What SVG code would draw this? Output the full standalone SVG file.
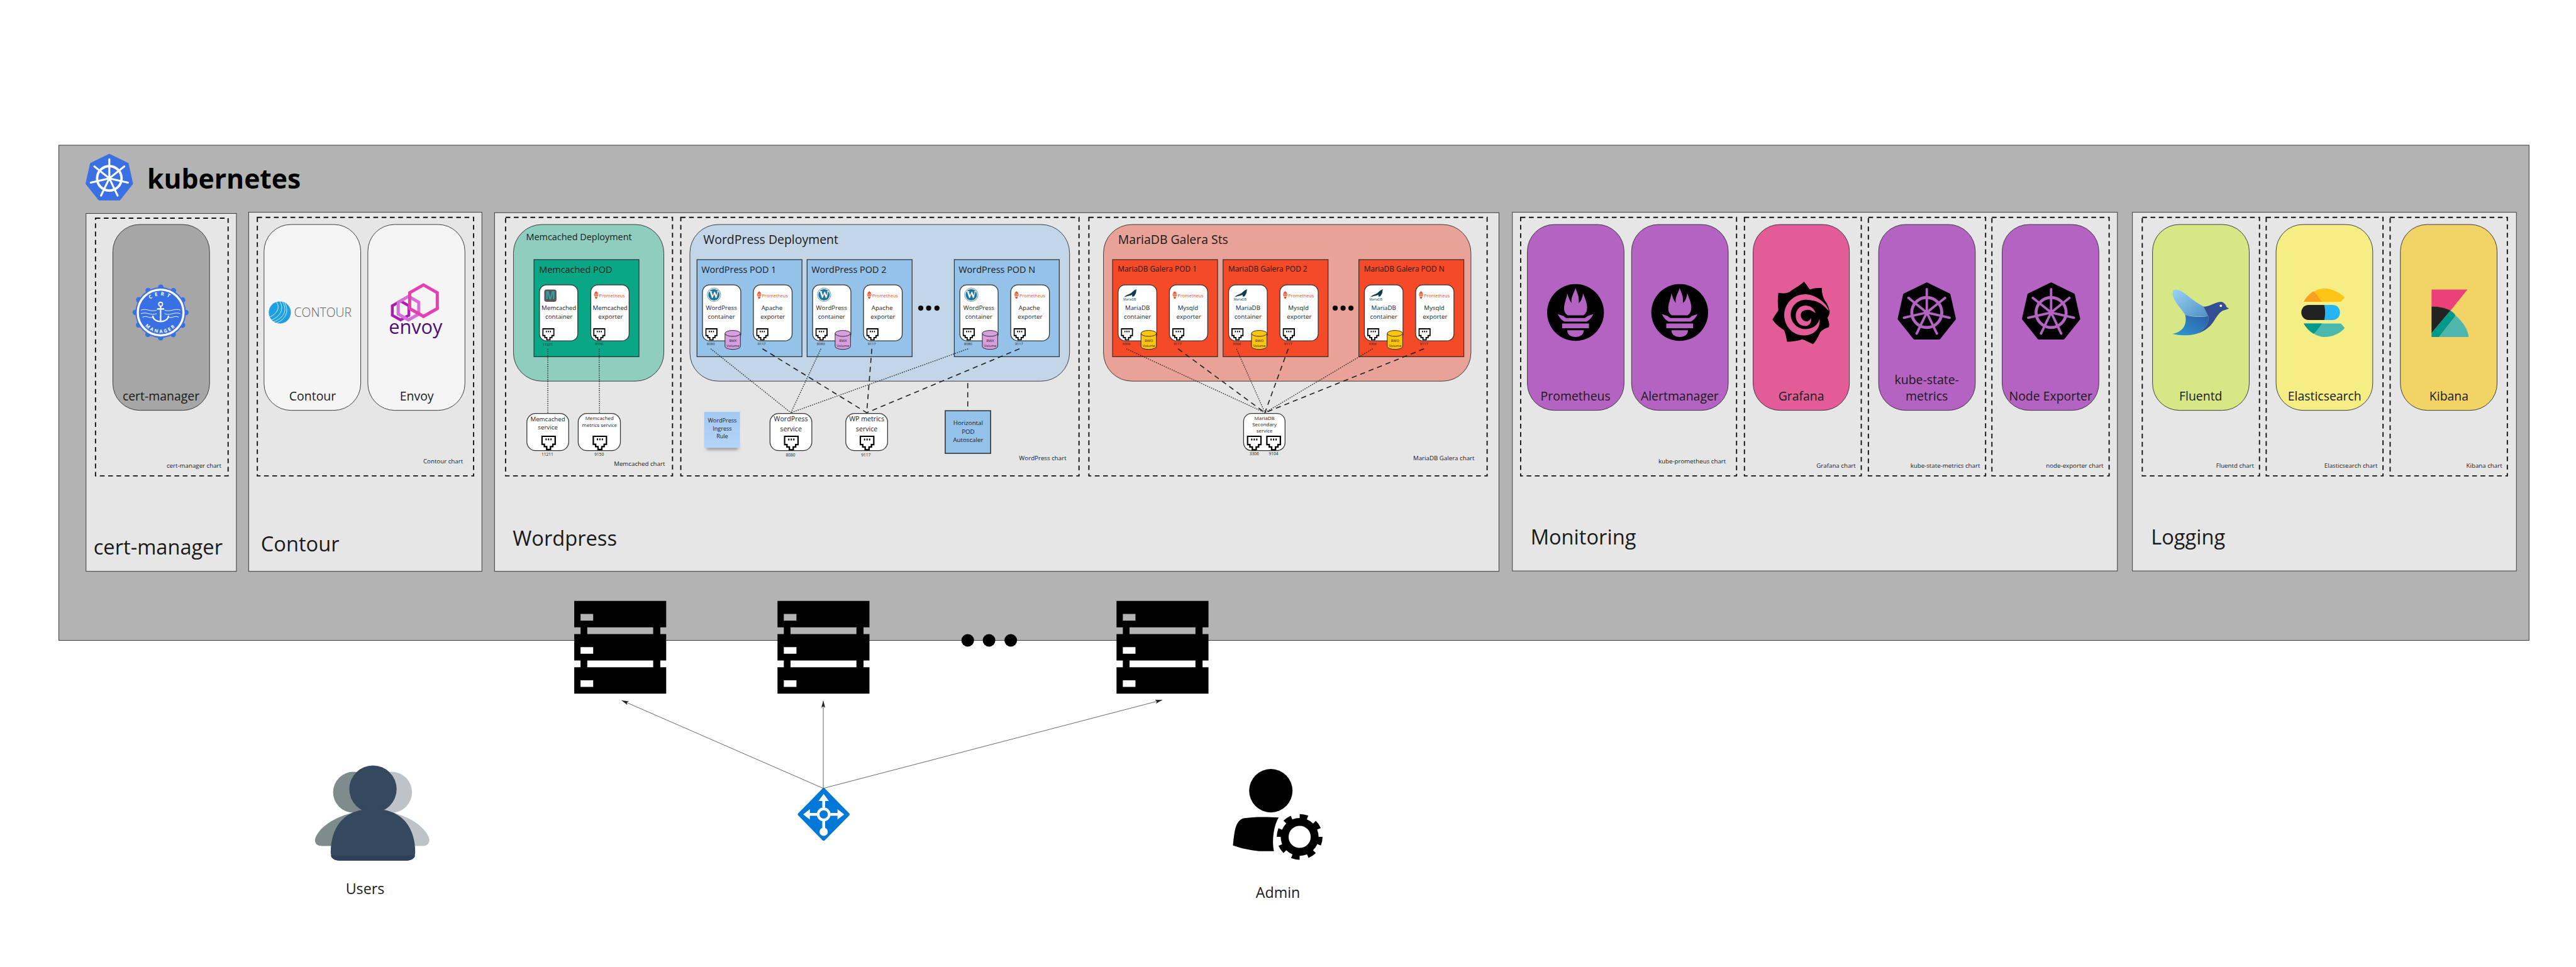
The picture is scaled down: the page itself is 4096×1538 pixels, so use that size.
<svg xmlns="http://www.w3.org/2000/svg" width="4096" height="1538" viewBox="0 0 4096 1538">
<style>
text{font-family:"Open Sans","Noto Sans","DejaVu Sans",sans-serif;fill:#1a1a1a}
.m{text-anchor:middle}.e{text-anchor:end}
.panel{fill:#e6e6e6;stroke:#333;stroke-width:1.5}
.chart{fill:none;stroke:#111;stroke-width:3;stroke-dasharray:12 9}
.card{stroke:#333;stroke-width:1.5}
.box{fill:#fff;stroke:#333;stroke-width:2}
.pod{stroke:#333;stroke-width:2}
.dot{fill:none;stroke:#222;stroke-width:2.2;stroke-dasharray:2.5 3}
.dash{fill:none;stroke:#222;stroke-width:2.6;stroke-dasharray:13 10}
.arrow{fill:none;stroke:#444;stroke-width:1.3}
.f9{font-size:9px}.f11{font-size:10.5px}.p{font-size:11.4px;fill:#e6522c}
.f15{font-size:15.5px}.f31{font-size:31px}.f52{font-size:52px}
.f23{font-size:23px}.f19{font-size:19px}.f17{font-size:17px}.f13{font-size:12.7px}.f145{font-size:14.5px}
.tit{font-size:31px}.wheel{fill:none;stroke:currentColor}
</style>
<defs>
<symbol id="port" viewBox="0 0 31 31"><path fill="#000" d="M0 0H31V20H26V25H21V31H10V25H5V20H0Z"/><path fill="#fff" d="M3 3H28V17H23V22H18V28H13V22H8V17H3Z"/><path fill="#000" d="M9 6h2.6v4H9zM14.2 6h2.6v4h-2.6zM19.4 6h2.6v4h-2.6z"/></symbol>
<g id="cyl" stroke="#222" stroke-width="1.5"><path d="M1 8V41A19.5 7.5 0 0 0 40 41V8"/><ellipse cx="20.5" cy="8" rx="19.5" ry="7.5"/></g>
<g id="flame" fill="#e6522c"><path d="M6.5 0C7 2 8 2 9 4C10 3 11 5 11 7L13 8H0L2 7C2 5 3 5 4 3C5 3.500 6 2 6.500 0Z"/><path d="M1 9H12V11.500H1ZM2 12.500H11V14H2ZM3 15H10L8 20H5Z"/></g>
<path id="seal" fill="#0f3d4c" d="M0 20C8 12 14 14 20 8C24 4 28 1 32 0C30 5 32 8 28 14C26 18 24 20 20 18L21 14C14 17 6 18 0 20Z"/>
<g id="wp"><circle r="17" fill="#fff" stroke="#21759b" stroke-width="1.2"/><circle r="14.500" fill="#21759b"/></g>
<g id="wheel" class="wheel"><circle r="50" stroke-width="10"/><circle r="9" fill="currentColor" stroke="none"/><path stroke-width="8" stroke-linecap="round" d="M0 0L0 -78M0 0L61 -48.600M0 0L76 17.400M0 0L33.800 70.300M0 0L-33.800 70.300M0 0L-76 17.400M0 0L-61 -48.600"/></g>
<polygon id="hepta" stroke-width="10" stroke-linejoin="round" points="0,-95 74,-59 92,21 41,85 -41,85 -92,21 -74,-59"/>
<g id="torch"><circle r="72" fill="#000"/><g fill="#b463c2"><path d="M0 -62C4 -48 10 -42 8 -24C14 -28 18 -38 19 -49C24 -35 31 -22 29 -8C28 0 24 5 20 7H-20C-25 4 -29 -2 -29 -10C-29 -24 -22 -36 -21 -49C-18 -38 -15 -30 -10 -24C-12 -40 -4 -48 0 -62Z"/><path d="M-45 4L-30 9C-28 12 -24 14 -20 14H20C24 14 28 12 30 9L45 4C42 12 35 20 28 23H-28C-35 20 -42 12 -45 4Z"/><path d="M-34 28H34V40H-34ZM-21 45H21C21 56 12 62 0 62C-12 62 -21 56 -21 45Z"/></g></g>
<g id="srv"><path fill="#000" d="M0 0H233V67H0ZM0 84H233V151H0ZM0 168H233V235H0ZM16 67H33V84H16ZM200 67H218V84H200ZM16 151H33V168H16ZM200 151H218V168H200Z"/><path fill="#b3b3b3" d="M16 33H48V50H16Z"/><path fill="#fff" d="M16 117H48V134H16ZM16 201H48V218H16Z"/></g>
<marker id="arr" markerUnits="userSpaceOnUse" markerWidth="20" markerHeight="12" refX="18" refY="6" orient="auto"><path d="M0 1L18 6L0 11L4 6Z" fill="#222"/></marker>
<linearGradient id="wing" x1="0" y1="0" x2="1" y2="1"><stop offset="0" stop-color="#9ad4f3"/><stop offset="1" stop-color="#4f8fc6"/></linearGradient>
<linearGradient id="bod" x1="1" y1="0" x2="0" y2="1"><stop offset="0" stop-color="#2d5ea6"/><stop offset="1" stop-color="#2f9ad3"/></linearGradient>
<linearGradient id="note" x1="0" y1="0" x2="0" y2="1"><stop offset="0" stop-color="#a3c9f1"/><stop offset="1" stop-color="#b3d5fa"/></linearGradient>
<filter id="blur" x="-20%" y="-100%" width="140%" height="300%"><feGaussianBlur stdDeviation="4"/></filter>
</defs>
<rect width="4096" height="1538" fill="#fff"/>
<g transform="scale(0.62755)">

<g id="kubernetes"><rect x="149" y="368" width="6259" height="1255" fill="#b3b3b3" stroke="#333" stroke-width="1.5"/>
<g transform="translate(277 452) scale(.62)" color="#fff"><use href="#hepta" fill="#3970e4" stroke="#3970e4"/><use href="#wheel"/></g>
<text x="373" y="478" font-size="68" font-weight="700" style="fill:#000">kubernetes</text></g>

<g id="cert-manager-panel"><rect class="panel" x="218" y="541" width="381" height="907"/><rect class="chart" x="242" y="553" width="336" height="653"/>
<text class="e f15" x="561" y="1185">cert-manager chart</text><text class="f52" x="237" y="1406">cert-manager</text></g>
<g id="cert-manager"><rect class="card" x="286" y="569" width="245" height="471" rx="68" fill="#a6a6a6"/>
<g transform="translate(407 792)"><circle r="64" fill="#3970e4"/><circle r="64" fill="none" stroke="#3970e4" stroke-width="14" stroke-linecap="round" stroke-dasharray="0 33.500"/><circle r="58" fill="none" stroke="#fff" stroke-width="5.500"/>
<path id="arcT" fill="none" d="M-43 0A43 43 0 0 1 43 0"/><path id="arcB" fill="none" d="M-52 0A52 52 0 0 0 52 0"/>
<text font-size="12.500" font-weight="700" letter-spacing="7" style="fill:#fff"><textPath href="#arcT" startOffset="50%" text-anchor="middle">CERT</textPath></text>
<text font-size="12" font-weight="700" letter-spacing="4" style="fill:#fff"><textPath href="#arcB" startOffset="50%" text-anchor="middle">MANAGER</textPath></text>
<g fill="none" stroke="#fff"><path stroke-width="1.500" d="M-50 -6C-35 -12 -25 0 -10 -6M10 -6C25 0 35 -12 50 -6M-50 3C-35 -3 -25 9 -10 3M10 3C25 9 35 -3 50 3M-46 12C-35 6 -30 16 -20 12M20 12C30 16 35 6 46 12"/><circle cy="-21" r="5" stroke-width="3"/><path stroke-width="3.500" d="M0 -16V23M-9 -9H9M-20 8C-18 28 18 28 20 8"/></g></g>
<text class="m f31" x="408" y="1015">cert-manager</text></g>

<g id="contour-panel"><rect class="panel" x="630" y="538" width="591" height="910"/><rect class="chart" x="652" y="551" width="548" height="655"/>
<text class="e f15" x="1173" y="1174">Contour chart</text><text class="f52" x="661" y="1397">Contour</text></g>
<g id="contour"><rect class="card" x="669" y="569" width="245" height="471" rx="68" fill="#f5f5f5"/>
<circle cx="709" cy="792" r="28" fill="#1e9fe0"/><path fill="none" stroke="#fff" stroke-width="1.300" d="M716 765C728 785 722 805 692 816M722 768C732 788 726 808 700 819M709 764C720 782 712 802 686 812M700 765C710 778 704 795 682 804"/>
<text x="745" y="803" font-size="31" font-weight="300" style="fill:#666">CONTOUR</text><text class="m f31" x="792" y="1015">Contour</text></g>
<g id="envoy"><rect class="card" x="932" y="569" width="246" height="471" rx="68" fill="#f5f5f5"/>
<polygon fill="none" stroke="#a81fae" stroke-width="7" points="1015,763 1036,775 1036,799 1015,811 994,799 994,775"/><polygon fill="none" stroke="#d86fd9" stroke-width="8" points="1035,751 1061,766 1061,796 1035,811 1009,796 1009,766"/><polygon fill="none" stroke="#e53fb0" stroke-width="8" points="1073,722 1108,742 1108,782 1073,802 1038,782 1038,742"/>
<text x="1053" y="846" class="m" font-size="49" font-weight="500" style="fill:#4d0f75">envoy</text><text class="m f31" x="1056" y="1015">Envoy</text></g>

<g id="wordpress-panel"><rect class="panel" x="1253" y="539" width="2545" height="909"/>
<rect class="chart" x="1281" y="551" width="423" height="655"/><rect class="chart" x="1725" y="551" width="1009" height="655"/><rect class="chart" x="2759" y="551" width="1009" height="655"/>
<text class="e f15" x="1685" y="1180">Memcached chart</text><text class="e f15" x="2702" y="1167">WordPress chart</text><text class="e f15" x="3736" y="1167">MariaDB Galera chart</text>
<text class="f52" x="1299" y="1383">Wordpress</text></g>

<g id="memcached-deployment"><rect class="card" x="1301" y="569" width="381" height="397" rx="72" fill="#8fcdbf"/><text class="f23" x="1333" y="609">Memcached Deployment</text></g>
<g id="memcached-pod"><rect class="pod" x="1353" y="658" width="266" height="246" fill="#0aa787"/><text class="f23" x="1366" y="692">Memcached POD</text>
<rect class="box" x="1367" y="722" width="97" height="142" rx="18"/><rect x="1379" y="734" width="31" height="31" rx="6" fill="#5c5557"/><text class="m" x="1394.500" y="759" font-size="27" font-weight="700" style="fill:#26a6a6">M</text>
<text class="m f15" x="1416" y="786">Memcached</text><text class="m f15" x="1416" y="808">container</text><use href="#port" x="1374" y="832" width="31" height="31"/><text class="m f9" x="1388" y="876">11211</text>
<rect class="box" x="1497" y="722" width="97" height="142" rx="18"/><use href="#flame" transform="translate(1504 737)"/><text class="p" x="1518" y="753">Prometheus</text>
<text class="m f15" x="1546" y="786">Memcached</text><text class="m f15" x="1547" y="808">exporter</text><use href="#port" x="1503" y="832" width="31" height="31"/><text class="m f9" x="1518" y="875">9150</text></g>
<g id="memcached-service"><rect class="box" x="1335" y="1048" width="106" height="94" rx="22"/><text class="m f15" x="1388" y="1067">Memcached</text><text class="m f15" x="1388" y="1088">service</text><use href="#port" x="1371" y="1104" width="38" height="37"/><text class="m f11" x="1387" y="1156">11211</text></g>
<g id="memcached-metrics-service"><rect class="box" x="1465" y="1048" width="107" height="94" rx="22"/><text class="m f13" x="1519" y="1065">Memcached</text><text class="m f13" x="1519" y="1082">metrics service</text><use href="#port" x="1501" y="1104" width="38" height="37"/><text class="m f11" x="1518" y="1156">9150</text></g>

<g id="wordpress-deployment"><rect class="card" x="1748" y="569" width="962" height="397" rx="72" fill="#c3d6e8"/><text class="tit" x="1782" y="618">WordPress Deployment</text></g>
<g id="wp-pod-1" transform="translate(1766 658)"><rect class="pod" width="266" height="246" fill="#94c2e8"/><text class="f23" x="11" y="34">WordPress POD 1</text>
<rect class="box" x="14" y="64" width="97" height="142" rx="18"/><use href="#wp" x="43" y="89"/><text class="m" x="43" y="98" font-size="25" font-weight="700" style="font-family:'Liberation Serif',serif;fill:#fff">W</text><text class="m f15" x="62" y="128">WordPress</text><text class="m f15" x="62" y="150">container</text><use href="#port" x="21" y="174" width="31" height="31"/><use href="#cyl" x="70" y="179" fill="#d79fe0"/><text class="m f9" x="91" y="209">RWX</text><text class="m f9" x="91" y="222">Volume</text><text class="m f9" x="35" y="217">8080</text>
<rect class="box" x="143" y="64" width="98" height="142" rx="18"/><use href="#flame" transform="translate(151 79)"/><text class="p" x="165" y="95">Prometheus</text><text class="m f15" x="190" y="128">Apache</text><text class="m f15" x="192" y="150">exporter</text><use href="#port" x="150" y="174" width="31" height="31"/><text class="m f9" x="164" y="217">9117</text></g>
<g id="wp-pod-2" transform="translate(2045 658)"><rect class="pod" width="266" height="246" fill="#94c2e8"/><text class="f23" x="11" y="34">WordPress POD 2</text>
<rect class="box" x="14" y="64" width="97" height="142" rx="18"/><use href="#wp" x="43" y="89"/><text class="m" x="43" y="98" font-size="25" font-weight="700" style="font-family:'Liberation Serif',serif;fill:#fff">W</text><text class="m f15" x="62" y="128">WordPress</text><text class="m f15" x="62" y="150">container</text><use href="#port" x="21" y="174" width="31" height="31"/><use href="#cyl" x="70" y="179" fill="#d79fe0"/><text class="m f9" x="91" y="209">RWX</text><text class="m f9" x="91" y="222">Volume</text><text class="m f9" x="35" y="217">8080</text>
<rect class="box" x="143" y="64" width="98" height="142" rx="18"/><use href="#flame" transform="translate(151 79)"/><text class="p" x="165" y="95">Prometheus</text><text class="m f15" x="190" y="128">Apache</text><text class="m f15" x="192" y="150">exporter</text><use href="#port" x="150" y="174" width="31" height="31"/><text class="m f9" x="164" y="217">9117</text></g>
<g id="wp-pod-n" transform="translate(2418 658)"><rect class="pod" width="266" height="246" fill="#94c2e8"/><text class="f23" x="11" y="34">WordPress POD N</text>
<rect class="box" x="14" y="64" width="97" height="142" rx="18"/><use href="#wp" x="43" y="89"/><text class="m" x="43" y="98" font-size="25" font-weight="700" style="font-family:'Liberation Serif',serif;fill:#fff">W</text><text class="m f15" x="62" y="128">WordPress</text><text class="m f15" x="62" y="150">container</text><use href="#port" x="21" y="174" width="31" height="31"/><use href="#cyl" x="70" y="179" fill="#d79fe0"/><text class="m f9" x="91" y="209">RWX</text><text class="m f9" x="91" y="222">Volume</text><text class="m f9" x="35" y="217">8080</text>
<rect class="box" x="143" y="64" width="98" height="142" rx="18"/><use href="#flame" transform="translate(151 79)"/><text class="p" x="165" y="95">Prometheus</text><text class="m f15" x="190" y="128">Apache</text><text class="m f15" x="192" y="150">exporter</text><use href="#port" x="150" y="174" width="31" height="31"/><text class="m f9" x="164" y="217">9117</text></g>
<g id="wp-dots" fill="#000"><circle cx="2333" cy="781" r="6.500"/><circle cx="2353" cy="781" r="6.500"/><circle cx="2374" cy="781" r="6.500"/></g>
<g id="wp-ingress"><rect x="1790" y="1128" width="80" height="12" fill="#555" opacity=".55" filter="url(#blur)"/><rect x="1784" y="1044" width="91" height="91" fill="url(#note)"/><text class="m f145" x="1830" y="1071">WordPress</text><text class="m f145" x="1830" y="1092">Ingress</text><text class="m f145" x="1830" y="1111">Rule</text></g>
<g id="wp-service"><rect class="box" x="1951" y="1048" width="106" height="94" rx="22"/><text class="m f17" x="2004" y="1068">WordPress</text><text class="m f17" x="2004" y="1093">service</text><use href="#port" x="1986" y="1104" width="38" height="38"/><text class="m f11" x="2003" y="1157">8080</text></g>
<g id="wp-metrics-service"><rect class="box" x="2143" y="1048" width="106" height="94" rx="22"/><text class="m f17" x="2196" y="1068">WP metrics</text><text class="m f17" x="2196" y="1093">service</text><use href="#port" x="2178" y="1104" width="38" height="38"/><text class="m f11" x="2194" y="1157">9117</text></g>
<g id="hpa"><rect x="2395" y="1041" width="115" height="108" fill="#94c2e8" stroke="#333" stroke-width="2.500"/><text class="m f15" x="2453" y="1077">Horizontal</text><text class="m f15" x="2453" y="1099">POD</text><text class="m f15" x="2453" y="1120">Autoscaler</text></g>

<g id="mariadb-sts"><rect class="card" x="2796" y="569" width="931" height="397" rx="72" fill="#e9a297"/><text class="tit" x="2833" y="618">MariaDB Galera Sts</text></g>
<g id="mariadb-pod-1" transform="translate(2819 658)"><rect class="pod" width="266" height="246" fill="#f44a27"/><text class="f19" x="13" y="31">MariaDB Galera POD 1</text>
<rect class="box" x="14" y="64" width="98" height="142" rx="18"/><use href="#seal" x="29" y="75"/><text x="27" y="103" font-size="8" style="fill:#0f3d4c">MariaDB</text><text class="m f15" x="63" y="128">MariaDB</text><text class="m f15" x="63" y="150">container</text><use href="#port" x="21" y="174" width="31" height="31"/><use href="#cyl" x="71" y="179" fill="#ffc60d"/><text class="m f9" x="92" y="209">RWO</text><text class="m f9" x="92" y="222">Volume</text><text class="m f9" x="35" y="217">3306</text>
<rect class="box" x="144" y="64" width="97" height="142" rx="18"/><use href="#flame" transform="translate(151 79)"/><text class="p" x="165" y="95">Prometheus</text><text class="m f15" x="191" y="128">Mysqld</text><text class="m f15" x="193" y="150">exporter</text><use href="#port" x="151" y="174" width="31" height="31"/><text class="m f9" x="165" y="217">9117</text></g>
<g id="mariadb-pod-2" transform="translate(3099 658)"><rect class="pod" width="266" height="246" fill="#f44a27"/><text class="f19" x="13" y="31">MariaDB Galera POD 2</text>
<rect class="box" x="14" y="64" width="98" height="142" rx="18"/><use href="#seal" x="29" y="75"/><text x="27" y="103" font-size="8" style="fill:#0f3d4c">MariaDB</text><text class="m f15" x="63" y="128">MariaDB</text><text class="m f15" x="63" y="150">container</text><use href="#port" x="21" y="174" width="31" height="31"/><use href="#cyl" x="71" y="179" fill="#ffc60d"/><text class="m f9" x="92" y="209">RWO</text><text class="m f9" x="92" y="222">Volume</text><text class="m f9" x="35" y="217">3306</text>
<rect class="box" x="144" y="64" width="97" height="142" rx="18"/><use href="#flame" transform="translate(151 79)"/><text class="p" x="165" y="95">Prometheus</text><text class="m f15" x="191" y="128">Mysqld</text><text class="m f15" x="193" y="150">exporter</text><use href="#port" x="151" y="174" width="31" height="31"/><text class="m f9" x="165" y="217">9117</text></g>
<g id="mariadb-pod-n" transform="translate(3443 658)"><rect class="pod" width="266" height="246" fill="#f44a27"/><text class="f19" x="13" y="31">MariaDB Galera POD N</text>
<rect class="box" x="14" y="64" width="98" height="142" rx="18"/><use href="#seal" x="29" y="75"/><text x="27" y="103" font-size="8" style="fill:#0f3d4c">MariaDB</text><text class="m f15" x="63" y="128">MariaDB</text><text class="m f15" x="63" y="150">container</text><use href="#port" x="21" y="174" width="31" height="31"/><use href="#cyl" x="71" y="179" fill="#ffc60d"/><text class="m f9" x="92" y="209">RWO</text><text class="m f9" x="92" y="222">Volume</text><text class="m f9" x="35" y="217">3306</text>
<rect class="box" x="144" y="64" width="97" height="142" rx="18"/><use href="#flame" transform="translate(151 79)"/><text class="p" x="165" y="95">Prometheus</text><text class="m f15" x="191" y="128">Mysqld</text><text class="m f15" x="193" y="150">exporter</text><use href="#port" x="151" y="174" width="31" height="31"/><text class="m f9" x="165" y="217">9117</text></g>
<g id="mariadb-dots" fill="#000"><circle cx="3383" cy="781" r="6.500"/><circle cx="3403" cy="781" r="6.500"/><circle cx="3423" cy="781" r="6.500"/></g>
<g id="mariadb-service"><rect class="box" x="3151" y="1048" width="105" height="94" rx="20"/><text class="m f13" x="3204" y="1064">MariaDB</text><text class="m f13" x="3204" y="1080">Secondary</text><text class="m f13" x="3204" y="1097">service</text><use href="#port" x="3159" y="1104" width="38" height="38"/><use href="#port" x="3208" y="1104" width="38" height="38"/><text class="m f11" x="3178" y="1154">3306</text><text class="m f11" x="3227" y="1154">9104</text></g>

<g id="monitoring-panel"><rect class="panel" x="3832" y="538" width="1533" height="909"/>
<rect class="chart" x="3853" y="551" width="547" height="655"/><rect class="chart" x="4420" y="551" width="296" height="655"/><rect class="chart" x="4734" y="551" width="297" height="655"/><rect class="chart" x="5047" y="551" width="297" height="655"/>
<text class="e f15" x="4373" y="1174">kube-prometheus chart</text><text class="e f15" x="4702" y="1186">Grafana chart</text><text class="e f15" x="5017" y="1186">kube-state-metrics chart</text><text class="e f15" x="5330" y="1186">node-exporter chart</text>
<text class="f52" x="3878" y="1380">Monitoring</text></g>
<g id="prometheus"><rect class="card" x="3870" y="569" width="245" height="471" rx="68" fill="#b463c2"/><use href="#torch" x="3992" y="792"/><text class="m f31" x="3992" y="1015">Prometheus</text></g>
<g id="alertmanager"><rect class="card" x="4134" y="569" width="245" height="471" rx="68" fill="#b463c2"/><use href="#torch" x="4256" y="792"/><text class="m f31" x="4256" y="1015">Alertmanager</text></g>
<g id="grafana"><rect class="card" x="4442" y="569" width="244" height="471" rx="68" fill="#e25c97"/>
<g transform="translate(4566 792)"><path fill="#000" d="M5 -78C12 -70 16 -62 20 -58C30 -62 40 -62 50 -62C50 -50 52 -40 58 -30C66 -20 68 -10 70 -3C70 5 66 10 64 14C68 22 70 30 68 37C58 40 52 44 46 50C40 62 36 72 28 80C18 76 8 70 0 68C-12 72 -24 74 -38 74C-40 62 -42 52 -46 44C-58 38 -68 28 -75 18C-70 8 -64 2 -60 -6C-62 -20 -62 -36 -60 -50C-50 -48 -42 -48 -32 -52C-22 -60 -8 -66 5 -78Z"/>
<path fill="#e25c97" d="M-45 12C-48 -22 -20 -50 14 -46C42 -42 66 -18 68 -4C52 -20 44 -30 14 -32C-14 -34 -32 -12 -28 12C-24 34 0 48 22 40C34 36 42 26 44 16C48 42 28 58 4 58C-22 58 -42 38 -45 12Z"/>
<path fill="#e25c97" d="M-16 8C-16 -10 0 -22 18 -16C28 -12 32 -6 34 2C24 -8 10 -10 0 -2C-6 4 -4 18 8 22C14 24 20 20 22 14C26 26 16 36 4 34C-8 32 -16 22 -16 8Z"/></g>
<text class="m f31" x="4564" y="1015">Grafana</text></g>
<g id="kube-state-metrics"><rect class="card" x="4760" y="569" width="245" height="471" rx="68" fill="#b463c2"/><g transform="translate(4882 792) scale(.76)" color="#b463c2"><use href="#hepta" fill="#000" stroke="#000"/><use href="#wheel"/></g><text class="m f31" x="4882" y="973">kube-state-</text><text class="m f31" x="4882" y="1015">metrics</text></g>
<g id="node-exporter"><rect class="card" x="5073" y="569" width="245" height="471" rx="68" fill="#b463c2"/><g transform="translate(5197 792) scale(.76)" color="#b463c2"><use href="#hepta" fill="#000" stroke="#000"/><use href="#wheel"/></g><text class="m f31" x="5196" y="1015">Node Exporter</text></g>

<g id="logging-panel"><rect class="panel" x="5403" y="538" width="973" height="909"/>
<rect class="chart" x="5428" y="551" width="297" height="655"/><rect class="chart" x="5742" y="551" width="296" height="655"/><rect class="chart" x="6056" y="551" width="297" height="655"/>
<text class="e f15" x="5711" y="1186">Fluentd chart</text><text class="e f15" x="6024" y="1186">Elasticsearch chart</text><text class="e f15" x="6340" y="1186">Kibana chart</text>
<text class="f52" x="5450" y="1380">Logging</text></g>
<g id="fluentd"><rect class="card" x="5454" y="569" width="245" height="471" rx="68" fill="#d8e786"/>
<g transform="translate(5505 734)"><path fill="url(#bod)" d="M32 64C50 70 75 70 90 67C95 85 80 104 60 112C40 118 15 116 0 112C20 108 38 95 32 64Z"/><path fill="url(#wing)" d="M2 1C12 -3 25 5 40 17C55 30 70 38 78 43L90 67C70 70 45 68 32 64C20 45 -8 20 2 1Z"/><path fill="#334f91" d="M78 43C95 44 105 32 122 31C130 31 136 40 136 44L143 48L134 51C122 53 116 62 108 74C100 88 88 104 60 112C80 104 95 85 90 67Z"/><circle cx="122" cy="41" r="3" fill="#fff"/></g>
<text class="m f31" x="5576" y="1015">Fluentd</text></g>
<g id="elasticsearch"><rect class="card" x="5767" y="569" width="245" height="471" rx="68" fill="#f5ee85"/>
<path fill="#fec514" d="M5837 765C5850 745 5870 731 5888 731C5910 731 5930 743 5941 754L5931 765Z"/><path fill="#f9a01e" d="M5837 765C5845 750 5855 742 5862 738C5870 745 5876 755 5883 765Z"/>
<path fill="#25b5f3" d="M5880 773H5910C5922 773 5929 782 5929 792C5929 802 5922 811 5910 811H5880Z"/><path fill="#222" d="M5850 773H5889C5892 785 5892 800 5889 811H5850C5838 811 5831 802 5831 792C5831 782 5838 773 5850 773Z"/>
<path fill="#4bb8ad" d="M5837 820H5931L5941 831C5930 845 5910 854 5888 854C5870 854 5850 840 5837 820Z"/><path fill="#00998a" d="M5837 820H5883C5876 830 5870 840 5862 846C5852 840 5844 832 5837 820Z"/>
<text class="m f31" x="5890" y="1015">Elasticsearch</text></g>
<g id="kibana"><rect class="card" x="6082" y="569" width="245" height="471" rx="68" fill="#f2d366"/>
<path fill="#ec407a" d="M6161 734H6252L6209 787C6195 780 6178 777 6161 777Z"/><path fill="#222" d="M6161 777C6178 777 6195 780 6209 787L6161 844Z"/><path fill="#00998a" d="M6161 844L6209 787C6214 790 6219 795 6222 800L6180 854H6161Z"/><path fill="#4fb6ad" d="M6222 800C6240 815 6253 835 6255 854H6180Z"/>
<text class="m f31" x="6205" y="1015">Kibana</text></g>

<use id="server-1" href="#srv" x="1455" y="1523"/><use id="server-2" href="#srv" x="1970" y="1523"/><use id="server-n" href="#srv" x="2829" y="1523"/>
<g id="server-dots" fill="#000"><circle cx="2452" cy="1623" r="16"/><circle cx="2506" cy="1623" r="16"/><circle cx="2561" cy="1623" r="16"/></g>

<g id="router"><path d="M2087 2002L2148 2064L2087 2126L2026 2064Z" fill="#0078d7" stroke="#0078d7" stroke-width="9" stroke-linejoin="round"/>
<g fill="none" stroke="#fff" stroke-width="7"><path d="M2087 2024V2047M2087 2081V2100M2047 2064H2070M2104 2064H2127"/><circle cx="2087" cy="2064" r="14"/><circle cx="2087" cy="2108" r="7" fill="#fff"/></g><path fill="#fff" d="M2087 2012L2100 2030H2074ZM2035 2064L2052 2051V2077ZM2139 2064L2122 2051V2077Z"/></g>
<g id="users"><path fill="#bdc3c7" d="M940 2144V2055C1010 2050 1080 2090 1088 2128C1088 2140 1080 2144 1070 2144Z"/><circle cx="992" cy="2008" r="52" fill="#bdc3c7"/><path fill="#7f8c8d" d="M950 2144V2055C880 2050 806 2090 798 2128C798 2140 806 2144 816 2144Z"/><circle cx="896" cy="2008" r="52" fill="#7f8c8d"/>
<circle cx="945" cy="2000" r="60" fill="#34495e"/><path fill="#34495e" d="M838 2160C838 2110 860 2050 945 2050C1030 2050 1052 2110 1052 2160C1052 2172 1045 2181 1030 2181H860C845 2181 838 2172 838 2160Z"/><path fill="#2e4057" d="M838 2168H1052C1050 2176 1042 2181 1030 2181H860C848 2181 840 2176 838 2168Z"/>
<text class="m" x="925" y="2266" font-size="37">Users</text></g>
<g id="admin"><circle cx="3220" cy="2004" r="55" fill="#000"/><path fill="#000" d="M3124 2143C3128 2105 3130 2082 3150 2074C3175 2070 3210 2070 3240 2072C3228 2090 3222 2130 3228 2157H3190C3165 2155 3145 2150 3124 2143Z"/>
<g fill="none" stroke="#000"><circle cx="3293" cy="2121" r="38" stroke-width="20"/><circle cx="3293" cy="2121" r="52" stroke-width="12" stroke-dasharray="20 20.800"/></g>
<text class="m" x="3238" y="2276" font-size="37">Admin</text></g>

<g id="connectors">
<path class="dot" d="M1388 884L1388 1047M1518 884L1519 1047"/>
<path class="dot" d="M1801 884L2004 1046M2080 884L2004 1046M2453 884L2004 1046"/>
<path class="dash" d="M1932 884L2196 1046M2209 884L2196 1046M2583 884L2196 1046M2452 971V1041"/>
<path class="dot" d="M2854 884L3205 1046M3133 884L3205 1046M3478 884L3205 1046"/>
<path class="dash" d="M2985 884L3205 1046M3264 884L3205 1046M3608 884L3205 1046"/>
<path class="arrow" d="M2086 1998L1575 1775" marker-end="url(#arr)"/><path class="arrow" d="M2086 1998L2086 1776" marker-end="url(#arr)"/><path class="arrow" d="M2086 1998L2945 1774" marker-end="url(#arr)"/>
</g>
</g>
</svg>
